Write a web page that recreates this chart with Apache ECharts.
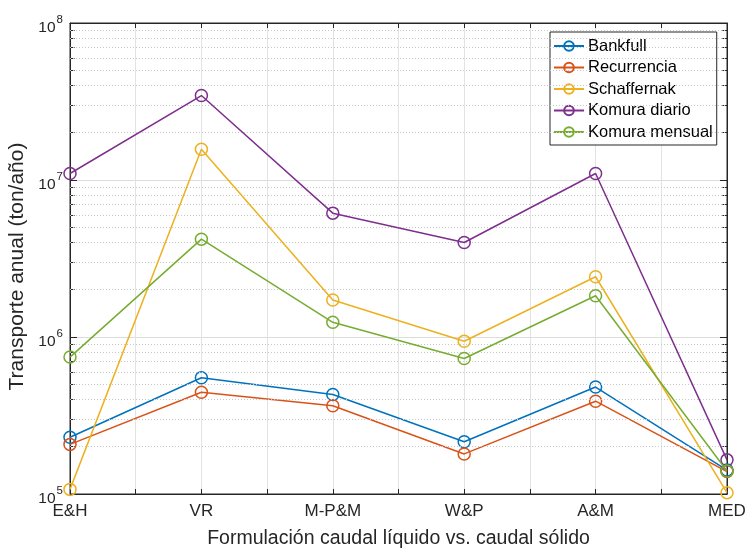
<!DOCTYPE html>
<html>
<head>
<meta charset="utf-8">
<script src="https://cdn.jsdelivr.net/npm/echarts@6/dist/echarts.min.js"></script>
<style>
  html, body { margin: 0; padding: 0; background: #fff; }
  #main { width: 747px; height: 548px; }
</style>
</head>
<body>
<div id="main"></div>
<script>
// categorias del eje x
var categorias = ['E&H', 'VR', 'M-P&M', 'W&P', 'A&M', 'MED'];
// transporte anual (ton/año)
var bankfull      = [2.3e5, 5.5e5, 4.3e5, 2.15e5, 4.8e5, 1.42e5];
var recurrencia   = [2.07e5, 4.45e5, 3.65e5, 1.8e5, 3.9e5, 1.39e5];
var schaffernak   = [1.07e5, 1.57e7, 1.72e6, 9.4e5, 2.42e6, 1.02e5];
var komuraDiario  = [1.1e7, 3.45e7, 6.15e6, 4.0e6, 1.1e7, 1.65e5];
var komuraMensual = [7.45e5, 4.2e6, 1.24e6, 7.3e5, 1.83e6, 1.4e5];
var nombres = ['Bankfull', 'Recurrencia', 'Schaffernak', 'Komura diario', 'Komura mensual'];
var colores = ['#0072BD', '#D95319', '#EDB120', '#7E2F8E', '#77AC30'];

var fuente = 'Liberation Sans, Arial, sans-serif';
var myChart = echarts.init(document.getElementById('main'));

// lineas de rejilla menores (2..9 x 10^n) y sus marcas cortas en los bordes
var menores = [];
var marcasMenores = [];
var largo = 0.035;
for (var e = 5; e < 8; e++) {
  for (var m = 2; m <= 9; m++) {
    var v = m * Math.pow(10, e);
    menores.push({ yAxis: v });
    marcasMenores.push([{ coord: [1, v] }, { coord: [1 + largo, v] }]);
    marcasMenores.push([{ coord: [6 - largo, v] }, { coord: [6, v] }]);
  }
}

function pares(arr) {
  return arr.map(function (v, i) { return [i + 1, v]; });
}

var datos = [bankfull, recurrencia, schaffernak, komuraDiario, komuraMensual];
var series = datos.map(function (d, i) {
  return {
    name: nombres[i],
    type: 'line',
    data: pares(d),
    symbol: 'circle',
    symbolSize: 12,
    lineStyle: { width: 1.5, color: colores[i] },
    itemStyle: { color: 'rgba(255,255,255,0)', borderColor: colores[i], borderWidth: 1.5 },
    z: 3 + i
  };
});
// rejilla menor punteada
series.unshift({
  type: 'line',
  data: [],
  silent: true,
  markLine: {
    silent: true,
    symbol: 'none',
    animation: false,
    label: { show: false },
    lineStyle: { color: '#c8c8c8', type: [1, 2], width: 1 },
    data: menores
  },
  z: 1
});
// marcas menores del eje y
series.unshift({
  type: 'line',
  data: [],
  silent: true,
  markLine: {
    silent: true,
    symbol: 'none',
    animation: false,
    label: { show: false },
    lineStyle: { color: '#262626', type: 'solid', width: 1 },
    data: marcasMenores
  },
  z: 2
});

function etiquetaY(v) {
  var e = Math.round(Math.log10(v));
  return '{b|10}{s|' + e + '}';
}

var option = {
  animation: false,
  backgroundColor: '#fff',
  textStyle: { fontFamily: fuente },
  grid: {
    left: 70, right: 20, top: 23, bottom: 54,
    outerBoundsMode: 'none',
    show: true, borderColor: '#262626', borderWidth: 1, backgroundColor: 'transparent'
  },
  legend: {
    data: nombres,
    orient: 'vertical',
    left: 550, top: 32,
    itemWidth: 30, itemHeight: 12, itemGap: 3.5,
    padding: [5, 4, 4, 3],
    backgroundColor: '#fff',
    borderColor: '#262626', borderWidth: 1, borderRadius: 0,
    textStyle: { fontSize: 16.5, lineHeight: 18, color: '#000', fontFamily: fuente, padding: [0, 0, 0, -1] }
  },
  xAxis: [{
    type: 'value',
    min: 1, max: 6, interval: 0.5,
    name: 'Formulación caudal líquido vs. caudal sólido',
    nameLocation: 'middle', nameGap: 35,
    nameTextStyle: { fontSize: 19.5, color: '#262626', fontFamily: fuente },
    axisLine: { show: true, lineStyle: { color: '#262626' } },
    axisTick: { show: true, inside: true, length: 5, lineStyle: { color: '#262626' } },
    axisLabel: {
      fontSize: 17, color: '#262626', margin: 9, showMinLabel: true, showMaxLabel: true,
      formatter: function (v) {
        return Number.isInteger(v) ? categorias[v - 1] : '';
      }
    },
    splitLine: { show: true, lineStyle: { color: '#e3e3e3' } }
  }, {
    type: 'value', position: 'top',
    min: 1, max: 6, interval: 0.5,
    axisLine: { show: true, lineStyle: { color: '#262626' } },
    axisTick: { show: true, inside: true, length: 5, lineStyle: { color: '#262626' } },
    axisLabel: { show: false },
    splitLine: { show: false }
  }],
  yAxis: [{
    type: 'log', logBase: 10,
    min: 1e5, max: 1e8,
    name: 'Transporte anual (ton/año)',
    nameLocation: 'middle', nameGap: 38,
    nameTextStyle: { fontSize: 21, color: '#262626', fontFamily: fuente, padding: [0, 16, 0, 0] },
    axisLine: { show: true, lineStyle: { color: '#262626' } },
    axisTick: { show: true, inside: true, length: 7, lineStyle: { color: '#262626' } },
    axisLabel: {
      color: '#262626', margin: 7,
      formatter: etiquetaY,
      rich: {
        b: { fontSize: 15.5, color: '#262626', fontFamily: fuente, padding: [9, 0, 0, 0] },
        s: { fontSize: 11.5, color: '#262626', fontFamily: fuente, verticalAlign: 'top', padding: [3.5, 0, 0, 1] }
      }
    },
    splitLine: { show: true, lineStyle: { color: '#dcdcdc' } }
  }, {
    type: 'log', logBase: 10, position: 'right',
    min: 1e5, max: 1e8,
    axisLine: { show: true, lineStyle: { color: '#262626' } },
    axisTick: { show: true, inside: true, length: 7, lineStyle: { color: '#262626' } },
    axisLabel: { show: false },
    splitLine: { show: false }
  }],
  series: series
};

myChart.setOption(option);
</script>
</body>
</html>
